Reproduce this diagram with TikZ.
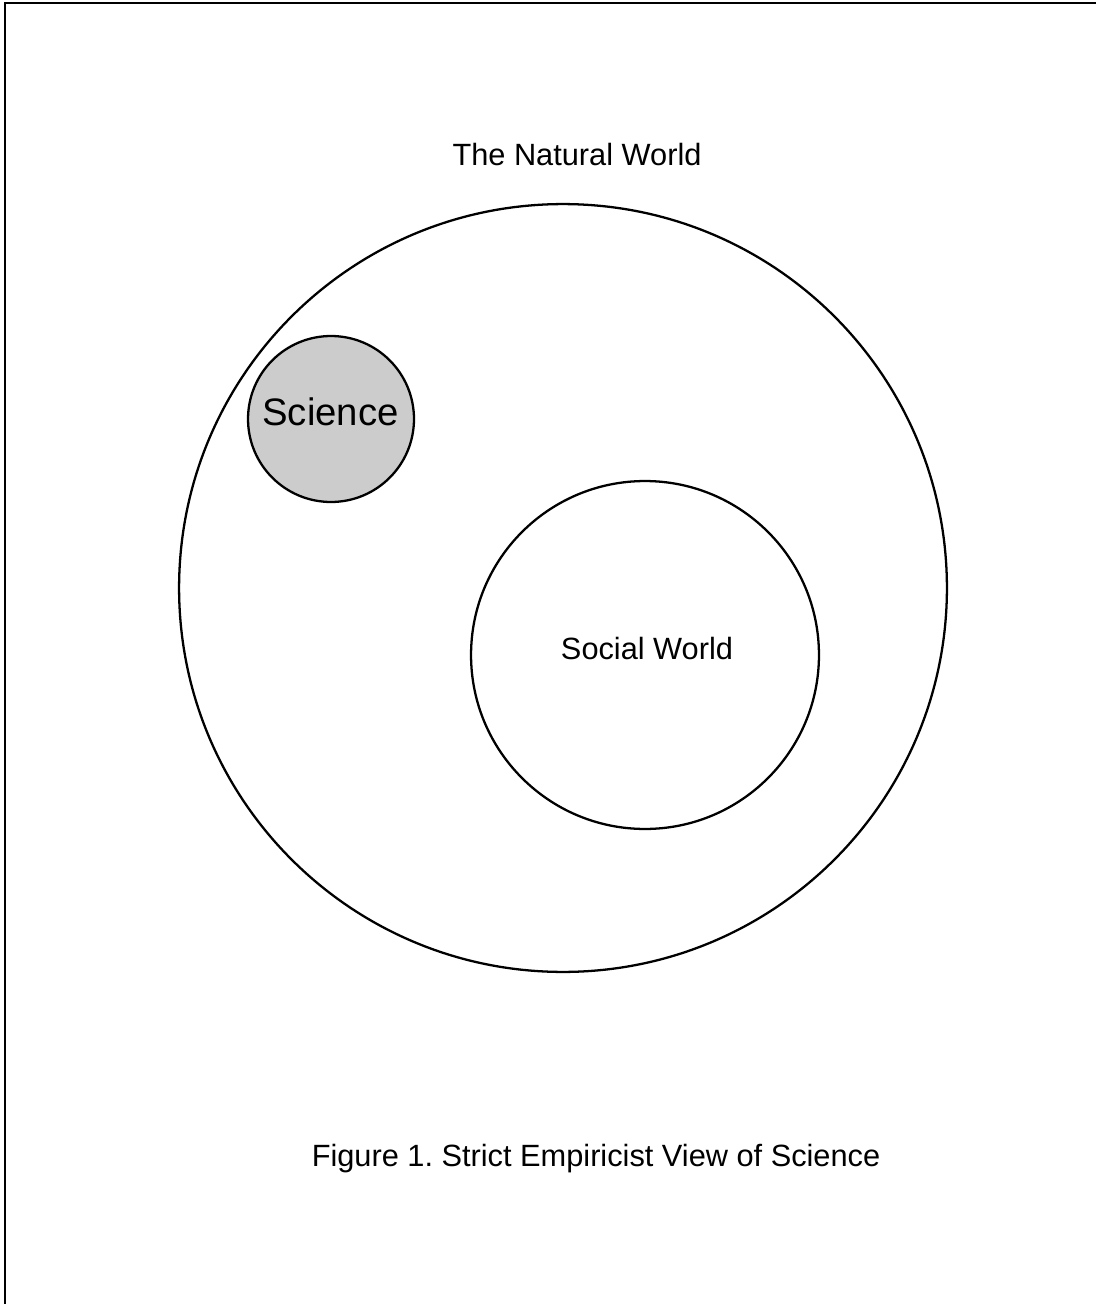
\documentclass[tikz,border=0pt]{standalone}
\usepackage{fontspec}
\setmainfont{Liberation Sans}
\frenchspacing
\tikzset{
    ring/.style={draw, circle, line width=1.3pt, inner sep=0pt},
    words/.style={anchor=base, inner sep=0pt, font=\fontsize{17.5}{21}\selectfont},
}
\begin{document}
\begin{tikzpicture}[x=0.02cm, y=-0.02cm]
            \useasboundingbox (0, 0) rectangle (1096, 1304);
            % frame, only top and left edges show
            \coordinate (corner) at (5, 3);
            \coordinate (topend) at (1096, 3);
            \coordinate (leftend) at (5, 1304);
            \draw[line width=1.4pt] (topend) -- (corner) -- (leftend);
            % worlds
            \node[ring, minimum size=15.36cm] (natural) at (563, 588) {};
            \node[ring, minimum size=6.96cm] (social) at (645, 655) {};
            \node[ring, minimum size=3.32cm, fill=black!20] (science) at (331, 419) {};
            \node[words] (naturaltxt) at (577, 166) {The Natural World};
            \node[words] (socialtxt) at (647, 659) {Social World};
            \node[words, font=\fontsize{21.8}{26}\selectfont] (sciencetxt) at (330.5, 425) {Science};
            \node[words] (caption) at (596, 1166) {Figure 1. Strict Empiricist View of Science};
        \end{tikzpicture}
\end{document}
